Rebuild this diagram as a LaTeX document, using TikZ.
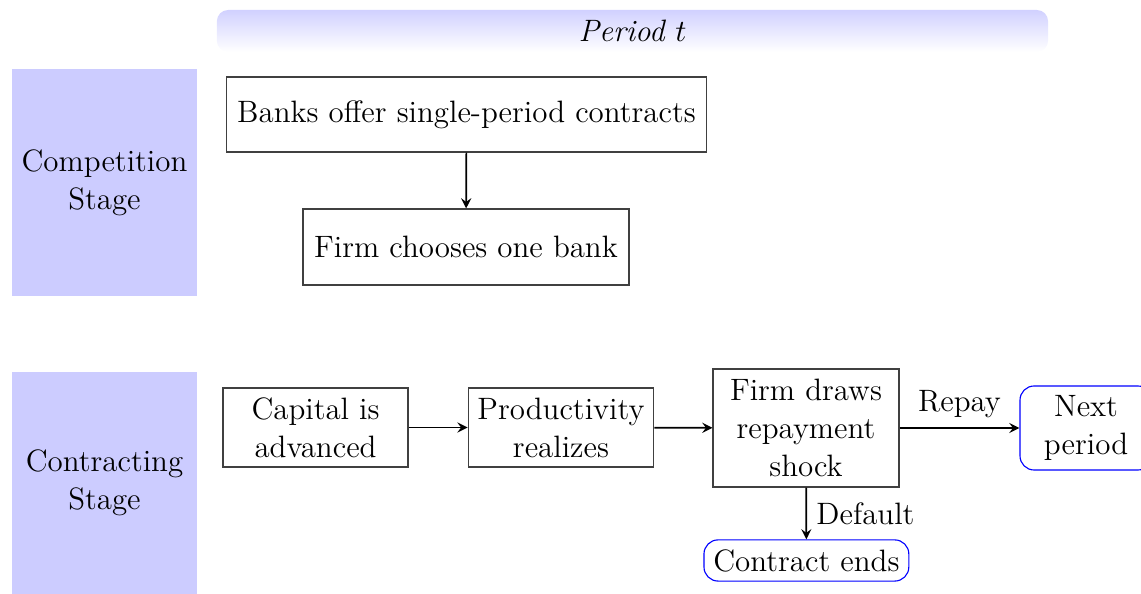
\documentclass[tikz,border=0pt]{standalone}
\usepackage{tikz}
\usepackage{xcolor}
\usetikzlibrary{positioning}
\tikzstyle{stage} = [rectangle, fill=blue!20, minimum width=2.3125cm, align=center]
\tikzstyle{event} = [rectangle, draw=black!75, thin, fill=white, align=center]
\tikzstyle{outcome} = [rectangle, rounded corners=5pt, draw=blue, thin, fill=white, align=center]

\begin{document}
\begin{tikzpicture}[->,>=stealth,semithick,auto,font=\fontsize{11}{13.5}\selectfont]
  \useasboundingbox (0,0) rectangle (14.2625,-7.425);
  \node[rounded corners, top color=blue!18, bottom color=white, minimum width=10.39cm, minimum height=0.525cm] (period) at (7.906,-0.3875) {\textit{Period $t$}};
  \node[stage, minimum height=2.8375cm] (comp) at (1.306,-2.281) {Competition\\Stage};
  \node[stage, minimum height=2.775cm] (contr) at (1.306,-6.0375) {Contracting\\Stage};

  \node[event, minimum width=6.01cm, minimum height=0.9375cm] (offer) at (5.831,-1.431) {Banks offer single-period contracts};
  \node[event, minimum width=4.075cm, minimum height=0.95cm] (choose) at (5.825,-3.0875) {Firm chooses one bank};

  \node[event, minimum width=2.3125cm, minimum height=0.9875cm] (capital) at (3.944,-5.344) {Capital is\\advanced};
  \node[event, minimum width=2.3125cm, minimum height=0.9875cm] (prod) at (7.0125,-5.344) {Productivity\\realizes};
  \node[event, minimum width=2.325cm, minimum height=1.475cm] (shock) at (10.075,-5.35) {Firm draws\\repayment\\shock};
  \node[outcome, minimum width=1.65cm, minimum height=1.05cm] (next) at (13.575,-5.35) {Next\\period};
  \node[outcome, minimum width=2.54cm, minimum height=0.51cm] (ends) at (10.08,-7.006) {Contract ends};

  \path (offer) edge node {} (choose);
  \path (capital) edge node {} (prod);
  \path (prod) edge node {} (shock);
  \path (shock) edge node {Repay} (next);
  \path (shock) edge node {Default} (ends);
\end{tikzpicture}
\end{document}
